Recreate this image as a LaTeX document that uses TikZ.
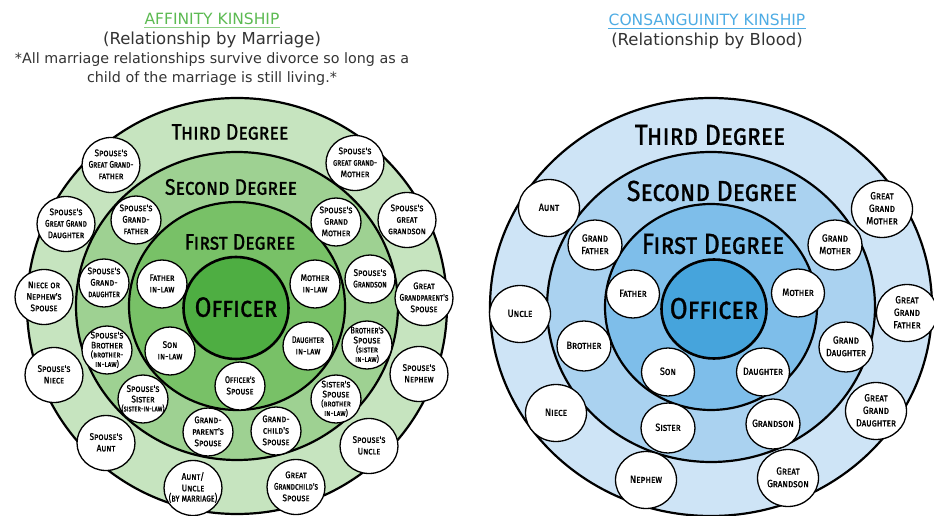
\documentclass[tikz,border=0pt]{standalone}
\usepackage{fontspec}
\setmainfont{DejaVu Sans}
\newfontfamily\kinfont{Fira Sans}[FakeStretch=0.86, FakeBold=1]
\usetikzlibrary{shapes.geometric}
\usetikzlibrary{positioning}
\definecolor{afftitle}{RGB}{92,186,82}
\definecolor{contitle}{RGB}{78,172,228}
\definecolor{affthree}{RGB}{198,228,191}
\definecolor{afftwo}{RGB}{158,209,146}
\definecolor{affone}{RGB}{120,193,103}
\definecolor{affcore}{RGB}{78,174,66}
\definecolor{conthree}{RGB}{206,228,246}
\definecolor{contwo}{RGB}{170,210,240}
\definecolor{conone}{RGB}{126,190,234}
\definecolor{concore}{RGB}{70,164,220}
\newcommand\kinsmall{\fontsize{8.3}{8}\selectfont}
\newcommand\kinsqueeze[1]{\scalebox{0.88}[1]{#1}}
% label text that does not widen its circle
\newcommand\kintext[1]{\raisebox{-0.3em}[0pt][0pt]{\makebox[0pt]{\begin{tabular}{@{}c@{}}#1\end{tabular}}}}
\tikzset{kin/.style = {ellipse, draw, line width=1.3pt, fill=white, inner sep=0pt,
                       font=\kinfont\scshape\fontsize{9.6}{11.5}\selectfont},
         kinthree/.style = {kin, minimum width=58pt, minimum height=55pt},
         kintwo/.style = {kin, minimum width=50pt, minimum height=48pt},
         bluethree/.style = {kin, minimum width=61pt, minimum height=57pt,
                             font=\kinfont\scshape\fontsize{10.5}{12.5}\selectfont},
         bluetwo/.style = {kin, minimum width=54pt, minimum height=50pt,
                           font=\kinfont\scshape\fontsize{10.5}{12.5}\selectfont},
         officer/.style = {ellipse, draw, line width=2.6pt, inner sep=0pt},
         degreeleft/.style = {font=\kinfont\scshape\fontsize{22.5}{22.5}\selectfont},
         degreeright/.style = {font=\kinfont\scshape\fontsize{29}{29}\selectfont},
         ring/.style = {line width=2.2pt}}

\begin{document}
\begin{tikzpicture}[x=1pt, y=-1pt]
  \useasboundingbox (0, 0) rectangle (934, 516);

  % titles
  \node [inner sep=0pt, text=afftitle, font=\fontsize{15.5}{15.5}\selectfont] (afftitle) at (212, 19) {AFFINITY KINSHIP};
  \draw [afftitle!70, line width=0.6pt] ([yshift=-2.5pt]afftitle.base west) -- ([yshift=-2.5pt]afftitle.base east);
  \node [inner sep=0pt, text=black!80, font=\fontsize{16.5}{16.5}\selectfont] (affsub) at (212, 40) {(Relationship by Marriage)};
  \node [inner sep=0pt, text=black!80, align=center, font=\fontsize{14.3}{19}\selectfont] (affnote) at (212, 69)
        {*All marriage relationships survive divorce so long as a\\child of the marriage is still living.*};
  \node [inner sep=0pt, text=contitle, font=\fontsize{15.5}{15.5}\selectfont] (contitle) at (707, 20) {CONSANGUINITY KINSHIP};
  \draw [contitle, line width=0.6pt] ([yshift=-2.5pt]contitle.base west) -- ([yshift=-2.5pt]contitle.base east);
  \node [inner sep=0pt, text=black!80, font=\fontsize{16.5}{16.5}\selectfont] (consub) at (707, 41) {(Relationship by Blood)};

  % affinity rings
  \coordinate (lc) at (237, 306);
  \draw [ring, fill=affthree] (lc) ellipse [x radius=210, y radius=208];
  \draw [ring, fill=afftwo] (lc) ellipse [x radius=161, y radius=154];
  \draw [ring, fill=affone] (lc) ellipse [x radius=108, y radius=104];
  \node [degreeleft] (lthird) at (230, 132) {Third Degree};
  \node [degreeleft] (lsecond) at (231, 187) {Second Degree};
  \node [degreeleft] (lfirst) at (240, 242) {First Degree};
  \node [officer, fill=affcore, minimum width=105pt, minimum height=102pt,
         font=\kinfont\scshape\fontsize{28}{33}\selectfont] (lofficer) at (236, 308) {\kintext{Officer}};

  % third degree by marriage
  \node [kinthree] (sggf) at (111, 165) {\kintext{Spouse's\\\kinsqueeze{Great Grand-}\\father}};
  \node [kinthree] (sggd) at (66, 224) {\kintext{Spouse's\\\kinsqueeze{Great Grand}\\Daughter}};
  \node [kinthree] (nns) at (44, 297) {\kintext{Niece or\\Nephew's\\Spouse}};
  \node [kinthree] (sniece) at (54, 375) {\kintext{Spouse's\\Niece}};
  \node [kinthree] (saunt) at (106, 443) {\kintext{Spouse's\\Aunt}};
  \node [kinthree] (auntuncle) at (193, 488) {\kintext{Aunt/\\Uncle\\[-2pt]\fontsize{10.5}{9}\selectfont\kinsqueeze{(by marriage)}}};
  \node [kinthree] (ggcs) at (296, 487) {\kintext{Great\\\kinsqueeze{Grandchild's}\\Spouse}};
  \node [kinthree] (suncle) at (369, 446) {\kintext{Spouse's\\Uncle}};
  \node [kinthree] (snephew) at (419, 374) {\kintext{Spouse's\\Nephew}};
  \node [kinthree] (ggps) at (424, 298) {\kintext{Great\\\kinsqueeze{Grandparent's}\\Spouse}};
  \node [kinthree] (sggs) at (407, 220) {\kintext{Spouse's\\great\\grandson}};
  \node [kinthree] (sggm) at (355, 163) {\kintext{Spouse's\\\kinsqueeze{great grand-}\\Mother}};

  % second degree by marriage
  \node [kintwo] (sgf) at (136, 220) {\kintext{Spouse's\\Grand-\\father}};
  \node [kintwo] (sgd) at (104, 283) {\kintext{Spouse's\\Grand-\\\kinsqueeze{daughter}}};
  \node [kintwo] (sbrother) at (107, 350) {\kintext{Spouse's\\[-1.5pt]Brother\\[-2.5pt]\kinsmall(brother-\\[-2pt]\kinsmall in-law)}};
  \node [kintwo] (ssister) at (143, 399) {\kintext{Spouse's\\[-1pt]Sister\\[-2.5pt]\kinsmall\kinsqueeze{(sister-in-law)}}};
  \node [kintwo] (gps) at (208, 432) {\kintext{Grand-\\parent's\\Spouse}};
  \node [kintwo] (gcs) at (276, 431) {\kintext{Grand-\\child's\\Spouse}};
  \node [kintwo] (sisters) at (336, 399) {\kintext{Sister's\\[-1.5pt]Spouse\\[-2.5pt]\kinsmall(brother\\[-2pt]\kinsmall in-law)}};
  \node [kintwo] (brothers) at (367, 345) {\kintext{\kinsqueeze{Brother's}\\[-1.5pt]Spouse\\[-2.5pt]\kinsmall(sister\\[-2pt]\kinsmall in-law)}};
  \node [kintwo] (sgs) at (370, 279) {\kintext{Spouse's\\\kinsqueeze{Grandson}}};
  \node [kintwo] (sgm) at (336, 222) {\kintext{Spouse's\\Grand\\Mother}};

  % first degree by marriage
  \node [kintwo] (fil) at (162, 284) {\kintext{Father\\in-law}};
  \node [kintwo] (mil) at (315, 284) {\kintext{Mother\\in-law}};
  \node [kintwo] (sil) at (170, 351) {\kintext{Son\\in-law}};
  \node [kintwo] (dil) at (308, 346) {\kintext{\kinsqueeze{Daughter}\\in-law}};
  \node [kintwo] (ospouse) at (240, 386) {\kintext{\kinsqueeze{Officer's}\\Spouse}};

  % consanguinity rings
  \coordinate (rc) at (711, 307);
  \draw [ring, fill=conthree] (rc) ellipse [x radius=221, y radius=209];
  \draw [ring, fill=contwo] (rc) ellipse [x radius=164, y radius=155];
  \draw [ring, fill=conone] (rc) ellipse [x radius=106, y radius=103];
  \node [degreeright] (rthird) at (710, 135) {Third Degree};
  \node [degreeright] (rsecond) at (712, 191) {Second Degree};
  \node [degreeright] (rfirst) at (713, 244) {First Degree};
  \node [officer, fill=concore, minimum width=105pt, minimum height=99pt,
         font=\kinfont\scshape\fontsize{30}{35}\selectfont] (rofficer) at (714, 309) {\kintext{Officer}};

  % third degree by blood
  \node [bluethree] (aunt) at (549, 208) {\kintext{Aunt}};
  \node [bluethree] (uncle) at (520, 314) {\kintext{Uncle}};
  \node [bluethree] (niece) at (556, 413) {\kintext{Niece}};
  \node [bluethree] (nephew) at (646, 480) {\kintext{Nephew}};
  \node [bluethree] (ggson) at (788, 478) {\kintext{Great\\Grandson}};
  \node [bluethree] (ggdaughter) at (876, 411) {\kintext{Great\\Grand\\Daughter}};
  \node [bluethree] (ggfather) at (907, 313) {\kintext{Great\\Grand\\Father}};
  \node [bluethree] (ggmother) at (882, 209) {\kintext{Great\\Grand\\Mother}};

  % second degree by blood
  \node [bluetwo] (gfather) at (595, 245) {\kintext{Grand\\Father}};
  \node [bluetwo] (brother) at (584, 346) {\kintext{Brother}};
  \node [bluetwo] (sister) at (668, 428) {\kintext{Sister}};
  \node [bluetwo] (gson) at (773, 424) {\kintext{Grandson}};
  \node [bluetwo] (gdaughter) at (846, 347) {\kintext{Grand\\Daughter}};
  \node [bluetwo] (gmother) at (835, 245) {\kintext{Grand\\Mother}};

  % first degree by blood
  \node [bluetwo, minimum width=53pt, minimum height=48pt] (father) at (633, 294) {\kintext{Father}};
  \node [bluetwo, minimum width=53pt, minimum height=48pt] (mother) at (798, 293) {\kintext{Mother}};
  \node [bluetwo, minimum width=53pt, minimum height=48pt] (son) at (668, 372) {\kintext{Son}};
  \node [bluetwo, minimum width=53pt, minimum height=48pt] (daughter) at (763, 372) {\kintext{Daughter}};
\end{tikzpicture}
\end{document}
